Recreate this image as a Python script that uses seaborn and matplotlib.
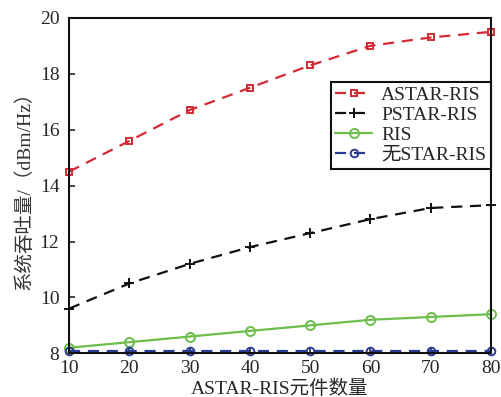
import numpy as np
import pandas as pd
import matplotlib
matplotlib.use('Agg')
import matplotlib.pyplot as plt
import seaborn as sns

sns.set_style('ticks')
plt.rcParams['font.family'] = ['Liberation Serif', 'Noto Sans CJK SC']

elements = [10, 20, 30, 40, 50, 60, 70, 80]
astar = [14.5, 15.6, 16.7, 17.5, 18.3, 19.0, 19.3, 19.5]
pstar = [9.6, 10.5, 11.2, 11.8, 12.3, 12.8, 13.2, 13.3]
ris = [8.2, 8.4, 8.6, 8.8, 9.0, 9.2, 9.3, 9.4]
no_star = [8.1, 8.1, 8.1, 8.1, 8.1, 8.1, 8.1, 8.1]

series = ['ASTAR-RIS', 'PSTAR-RIS', 'RIS', '无STAR-RIS']
values = [astar, pstar, ris, no_star]
colors = ['#d42a35', '#111111', '#6cbf4c', '#2a3c94']
markers = ['s', '+', 'o', 'o']
styles = ['--', '--', '-', '--']
msizes = [5, 7, 6.5, 5.5]

fig, ax = plt.subplots(figsize=(5.01, 3.97), dpi=100)
for name, y, c, m, ls, ms in zip(series, values, colors, markers, styles, msizes):
    sns.lineplot(x=elements, y=y, color=c, marker=m, linestyle=ls,
                 markersize=ms, markerfacecolor='none',
                 markeredgecolor=c, markeredgewidth=1.4,
                 linewidth=1.6, label=name, ax=ax, clip_on=False)

for line in ax.lines:
    if line.get_linestyle() == '--':
        line.set_dashes((5, 3.5))

ax.set_xlim(10, 80)
ax.set_ylim(8, 20)
ax.set_xticks(elements)
ax.set_yticks([8, 10, 12, 14, 16, 18, 20])
ax.tick_params(direction='in', labelsize=14, length=4, width=1.2)
ax.tick_params(axis='y', pad=7)
ax.tick_params(axis='x', pad=5)
for s in ax.spines.values():
    s.set_linewidth(1.5)
    s.set_color('#111111')

ax.set_xlabel('ASTAR-RIS元件数量', fontsize=14, labelpad=2)
ax.set_ylabel('系统吞吐量/（dBm/Hz）', fontsize=14, color='#333333', labelpad=4)

leg = ax.legend(loc='upper right', bbox_to_anchor=(1.0, 0.81),
                fontsize=14, frameon=True, fancybox=False, edgecolor='#111111',
                borderpad=0.25, labelspacing=0.12, handlelength=1.9,
                handletextpad=0.45, borderaxespad=0)
leg.get_frame().set_linewidth(1.5)
leg.get_frame().set_alpha(1)

fig.subplots_adjust(left=0.138, right=0.98, top=0.955, bottom=0.11)
fig.savefig('out.png', dpi=100)
